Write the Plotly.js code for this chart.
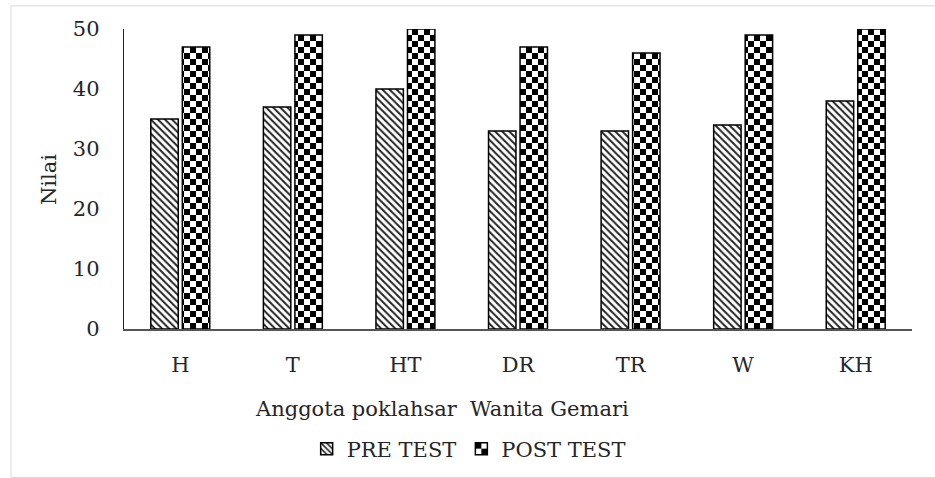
<!DOCTYPE html>
<html><head><meta charset="utf-8">
<script src="https://cdn.plot.ly/plotly-3.0.1.min.js"></script>
<style>body{margin:0;background:#fff}#c{width:935px;height:478px}</style>
</head><body><div id="c"></div>
<script>
const categories = ['H','T','HT','DR','TR','W','KH'];
const preTest  = [35,37,40,33,33,34,38];
const postTest = [47,49,50,47,46,49,50];
const seriesNames = ['PRE TEST','POST TEST'];
const yTicks = [0,10,20,30,40,50];
const xTitle = 'Anggota poklahsar\u00a0\u00a0Wanita Gemari';
const yTitle = 'Nilai';

const F = 'DejaVu Serif, serif';
const FS = 21;
const TC = '#262626';
const traces = [
  {type:'bar', name:seriesNames[0], x:categories, y:preTest,
   marker:{color:'#ffffff', line:{color:'#000', width:1.5},
           pattern:{shape:'\\', fgcolor:'#222', bgcolor:'#fff', size:5, solidity:0.4}}},
  {type:'bar', name:seriesNames[1], x:categories, y:postTest,
   marker:{color:'#ffffff', line:{color:'#000', width:1.5},
           pattern:{shape:'+', fgcolor:'#000', bgcolor:'#fff', size:12, solidity:0.5}}}
];
const layout = {
  width:935, height:478,
  margin:{l:124, r:23, t:29, b:149, autoexpand:false},
  paper_bgcolor:'#fff', plot_bgcolor:'#fff',
  font:{family:F, size:FS, color:TC},
  bargap:0.44, bargroupgap:0.13,
  showlegend:true,
  legend:{orientation:'h', x:0.4374, xanchor:'center', y:-0.40, yanchor:'middle',
          font:{family:F, size:FS, color:TC}, itemwidth:30, traceorder:'normal'},
  xaxis:{showline:true, linecolor:'#555', linewidth:1.5, ticks:'', showgrid:false,
         ticklabelstandoff:16, automargin:false,
         tickfont:{family:F, size:FS, color:TC}},
  yaxis:{range:[0,50], tickvals:yTicks, showline:true, linecolor:'#222', linewidth:1.2,
         ticks:'', showgrid:false, zeroline:false, ticklabelstandoff:19, automargin:false,
         tickfont:{family:F, size:FS, color:TC}},
  annotations:[
    {text:xTitle, xref:'paper', yref:'paper', x:0.4036, y:-0.265, xanchor:'center', yanchor:'middle',
     showarrow:false, font:{family:F, size:FS, color:TC}},
    {text:yTitle, xref:'paper', yref:'paper', x:-0.095, y:0.497, xanchor:'center', yanchor:'middle',
     textangle:-90, showarrow:false, font:{family:F, size:FS, color:TC}}
  ],
  shapes:[{type:'rect', xref:'paper', yref:'paper', x0:-0.1434, x1:1.05, y0:-0.495, y1:1.077,
           line:{color:'#d9d9d9', width:1}, fillcolor:'rgba(0,0,0,0)', layer:'below'}]
};
Plotly.newPlot('c', traces, layout, {displayModeBar:false, staticPlot:true}).then(gd => {
  const svg = gd.querySelector('svg.main-svg');
  const NS = 'http://www.w3.org/2000/svg';
  let defs = svg.querySelector('defs');
  const p = document.createElementNS(NS,'pattern');
  p.setAttribute('id','checkerPat'); p.setAttribute('patternUnits','userSpaceOnUse');
  p.setAttribute('width','12'); p.setAttribute('height','12');
  p.innerHTML = '<rect width="12" height="12" fill="#fff"/><rect x="0" y="0" width="6" height="6" fill="#000"/><rect x="6" y="6" width="6" height="6" fill="#000"/>';
  defs.appendChild(p);
  const bars = gd.querySelectorAll('.barlayer .trace');
  if (bars[1]) bars[1].querySelectorAll('path').forEach(el => el.style.fill = 'url(#checkerPat)');
  const leg = gd.querySelectorAll('.legend .traces');
  if (leg[1]) leg[1].querySelectorAll('.legendpoints path').forEach(el => el.style.fill = 'url(#checkerPat)');
});
</script></body></html>
